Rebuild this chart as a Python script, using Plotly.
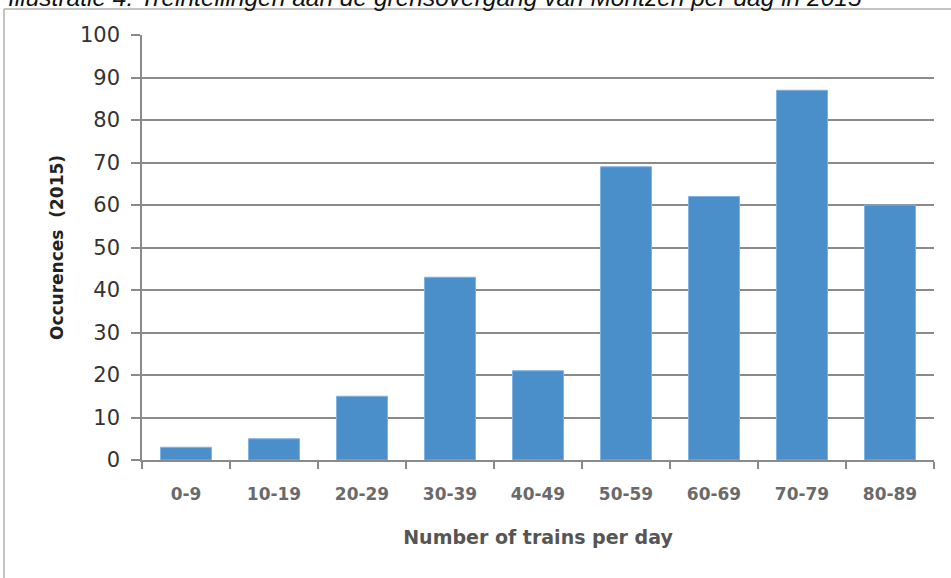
import plotly.graph_objects as go

categories = ["0-9", "10-19", "20-29", "30-39", "40-49", "50-59", "60-69", "70-79", "80-89"]
occurrences = [3, 5, 15, 43, 21, 69, 62, 87, 60]
y_ticks = [0, 10, 20, 30, 40, 50, 60, 70, 80, 90, 100]

caption = "Illustratie 4: Treintellingen aan de grensovergang van Montzen per dag in 2015"

W, H = 951, 578
L, R, T, B = 142, 17, 35, 118
pw, ph = W - L - R, H - T - B

def px(x):
    return (x - L) / pw

def py(y):
    return (H - B - y) / ph

fig = go.Figure()
fig.add_trace(go.Bar(
    x=categories, y=occurrences, width=0.58,
    marker=dict(color="#4a8fc9", line=dict(color="#7fb2e0", width=1)),
))

grid = "#8a8a8a"
fig.update_layout(
    width=W, height=H,
    margin=dict(l=L, r=R, t=T, b=B, pad=0),
    paper_bgcolor="white", plot_bgcolor="white",
    showlegend=False,
    xaxis=dict(
        type="category", tickson="boundaries", ticks="outside", ticklen=7,
        tickcolor=grid, tickwidth=1.5, showline=True, linecolor=grid, linewidth=1.5,
        showgrid=False, tickfont=dict(family="DejaVu Sans", size=17, color="#6a6a6a", weight="bold"),
        ticklabelstandoff=18,
        title=dict(text="<b>Number of trains per day</b>", standoff=28,
                   font=dict(family="DejaVu Sans", size=19, color="#555555")),
    ),
    yaxis=dict(
        range=[0, 100], tickvals=y_ticks, ticks="outside", ticklen=9,
        tickcolor=grid, tickwidth=1.5, showline=True, linecolor=grid, linewidth=1.5,
        showgrid=True, gridcolor=grid, gridwidth=1.5, zeroline=False,
        tickfont=dict(family="DejaVu Sans", size=21, color="#333333"),
        ticklabelstandoff=7,
        title=dict(text="<b>Occurences  (2015)</b>", standoff=12,
                   font=dict(family="DejaVu Sans", size=17, color="#222222")),
    ),
    shapes=[
        dict(type="line", xref="paper", yref="paper", x0=px(4), x1=px(951), y0=py(9), y1=py(9),
             line=dict(color="#b0b0b0", width=1.5)),
        dict(type="line", xref="paper", yref="paper", x0=px(4), x1=px(4), y0=py(9), y1=py(578),
             line=dict(color="#b0b0b0", width=1.5)),
    ],
    annotations=[
        dict(text=caption, xref="paper", yref="paper", x=px(6), y=py(-2),
             xanchor="left", yanchor="middle", showarrow=False,
             font=dict(family="Liberation Sans", size=24.5, color="#111111", style="italic")),
    ],
)

fig.write_html("out.html")
